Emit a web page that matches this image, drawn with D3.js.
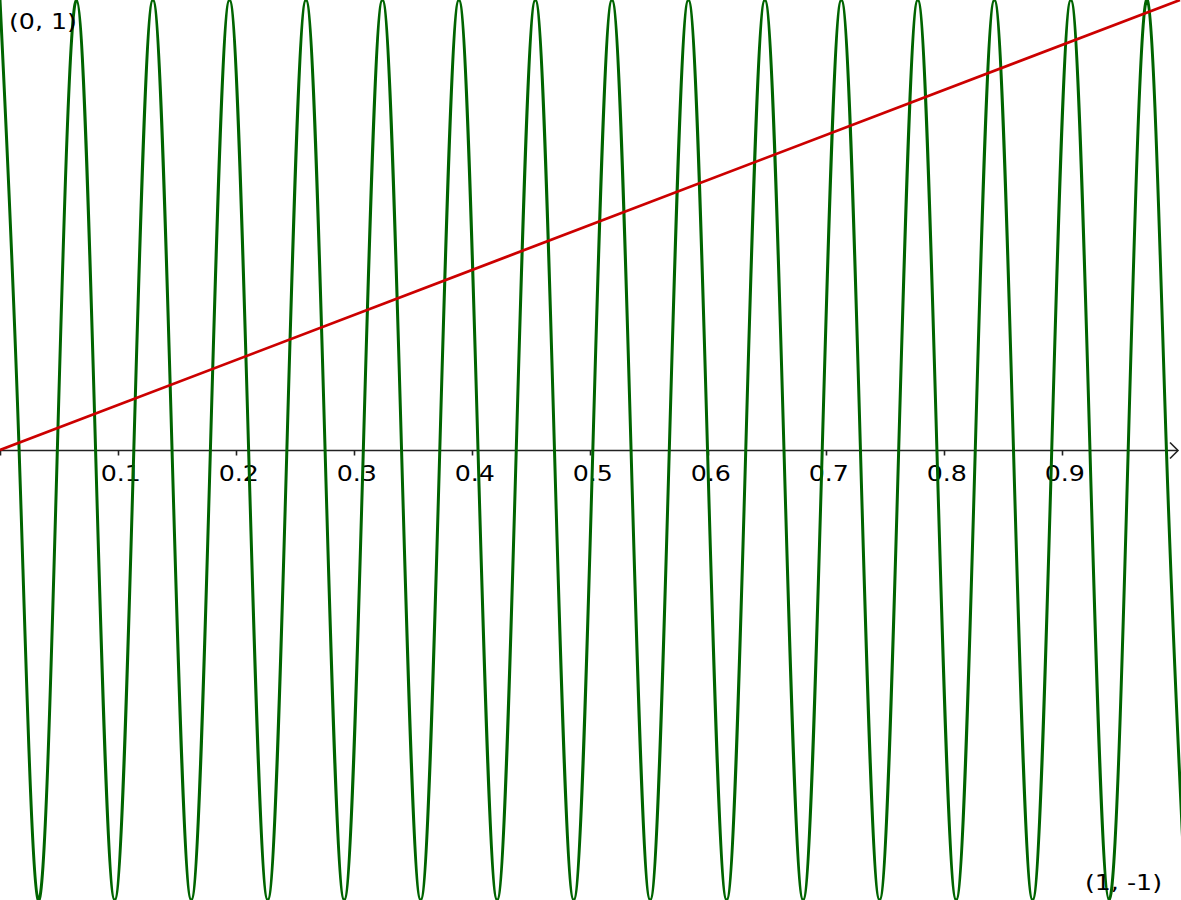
<!DOCTYPE html>
<html>
<head>
<meta charset="utf-8">
<script src="https://cdn.jsdelivr.net/npm/d3@7"></script>
<style>
  html, body { margin: 0; padding: 0; background: #fff; }
  svg { display: block; }
  text { font-family: "DejaVu Sans", sans-serif; }
</style>
</head>
<body>
<svg id="chart" width="1181" height="900"></svg>
<script>
// ---- data ----
// green curve: peaks (1), troughs (-1) and axis crossings (0), x in data units
const greenX = [0, 0.0162, 0.0324, 0.0486, 0.0648, 0.0810, 0.0972, 0.1134, 0.1296, 0.1458,
  0.1621, 0.1783, 0.1945, 0.2107, 0.2269, 0.2431, 0.2593, 0.2755, 0.2917, 0.3079,
  0.3241, 0.3403, 0.3565, 0.3727, 0.3889, 0.4051, 0.4213, 0.4375, 0.4537, 0.4699,
  0.4862, 0.5024, 0.5186, 0.5348, 0.5510, 0.5672, 0.5834, 0.5996, 0.6158, 0.6320,
  0.6482, 0.6644, 0.6806, 0.6968, 0.7130, 0.7292, 0.7454, 0.7616, 0.7778, 0.7940,
  0.8103, 0.8265, 0.8427, 0.8589, 0.8751, 0.8913, 0.9075, 0.9237, 0.9399, 0.9561,
  0.9723, 0.9885, 1.0047];
const greenY = [1, 0, -1, 0, 1, 0, -1, 0, 1, 0,
  -1, 0, 1, 0, -1, 0, 1, 0, -1, 0,
  1, 0, -1, 0, 1, 0, -1, 0, 1, 0,
  -1, 0, 1, 0, -1, 0, 1, 0, -1, 0,
  1, 0, -1, 0, 1, 0, -1, 0, 1, 0,
  -1, 0, 1, 0, -1, 0, 1, 0, -1, 0,
  1, 0, -1];
// red line
const redX = [0, 1];
const redY = [0, 1];
// x-axis ticks
const tickValues = [0, 0.1, 0.2, 0.3, 0.4, 0.5, 0.6, 0.7, 0.8, 0.9];
const tickLabels = ["", "0.1", "0.2", "0.3", "0.4", "0.5", "0.6", "0.7", "0.8", "0.9"];
// corner labels
const cornerLabels = ["(0, 1)", "(1, -1)"];

// ---- drawing ----
const W = 1181, H = 900;
const svg = d3.select("#chart");
const x = d3.scaleLinear().domain([0, 1]).range([0, 1180]);
const y = d3.scaleLinear().domain([-1, 1]).range([900, 0]);
const textStretch = "scale(1.15,1)";

svg.append("defs").append("clipPath").attr("id", "clip")
  .append("rect").attr("x", 0).attr("y", 0).attr("width", W).attr("height", H);

// axis
const axisY = y(0) + 0.5;
const axis = d3.axisBottom(x)
  .tickValues(tickValues)
  .tickFormat((d, i) => tickLabels[i])
  .tickSize(5)
  .tickPadding(10)
  .tickSizeOuter(0);
const gAxis = svg.append("g")
  .attr("transform", `translate(0,${axisY})`)
  .call(axis);
gAxis.select(".domain").remove();
gAxis.selectAll(".tick line").attr("stroke", "#222").attr("stroke-width", 1.6);
gAxis.selectAll(".tick text")
  .attr("font-family", "DejaVu Sans, sans-serif")
  .attr("font-size", 22)
  .attr("fill", "#000")
  .attr("dx", 2)
  .attr("transform", textStretch);

svg.append("line")
  .attr("x1", x(0)).attr("x2", 1178)
  .attr("y1", axisY).attr("y2", axisY)
  .attr("stroke", "#222").attr("stroke-width", 1.6);
svg.append("path")
  .attr("d", `M1170,${axisY - 8}L1178,${axisY}L1170,${axisY + 8}`)
  .attr("fill", "none").attr("stroke", "#222").attr("stroke-width", 1.6);

// green curve
const greenPts = greenX.map((v, i) => [v, greenY[i]]);
const lineGen = d3.line().x(d => x(d[0])).y(d => y(d[1])).curve(d3.curveNatural);
svg.append("path")
  .attr("clip-path", "url(#clip)")
  .attr("d", lineGen(greenPts))
  .attr("fill", "none")
  .attr("stroke", "#006400")
  .attr("stroke-width", 3)
  .attr("stroke-linejoin", "round");

// red line
const redPts = redX.map((v, i) => [v, redY[i]]);
svg.append("path")
  .attr("clip-path", "url(#clip)")
  .attr("d", d3.line().x(d => x(d[0])).y(d => y(d[1]))(redPts))
  .attr("fill", "none")
  .attr("stroke", "#cc0000")
  .attr("stroke-width", 2.7);

// corner labels
svg.append("text")
  .attr("transform", `translate(9,29) ${textStretch}`)
  .attr("font-size", 22)
  .attr("fill", "#000")
  .text(cornerLabels[0]);
svg.append("text")
  .attr("transform", `translate(1162,890) ${textStretch}`)
  .attr("text-anchor", "end")
  .attr("font-size", 22)
  .attr("fill", "#000")
  .text(cornerLabels[1]);
</script>
</body>
</html>
